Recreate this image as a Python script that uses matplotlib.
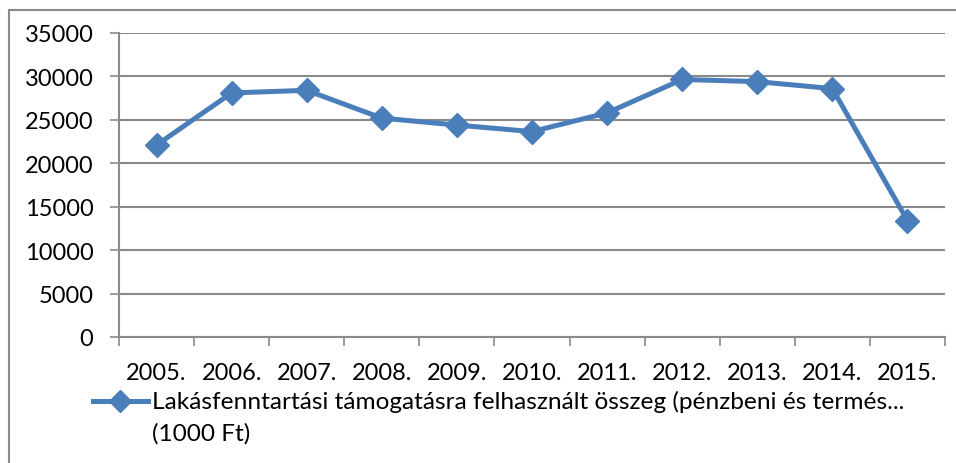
import matplotlib
matplotlib.use("Agg")
import matplotlib.pyplot as plt
from matplotlib.lines import Line2D
from matplotlib.patches import Rectangle

years = ["2005.", "2006.", "2007.", "2008.", "2009.", "2010.",
         "2011.", "2012.", "2013.", "2014.", "2015."]
values = [22100, 28100, 28400, 25200, 24400, 23650,
          25800, 29650, 29400, 28600, 13400]
series_label = ["Lakásfenntartási támogatásra felhasznált összeg (pénzbeni és termés...",
                "(1000 Ft)"]
y_ticks = [0, 5000, 10000, 15000, 20000, 25000, 30000, 35000]

BLUE = "#4A7EBB"
GRID = "#8A8A8A"
FS = 17

plt.rcParams['font.family'] = ['Lato', 'DejaVu Sans']

fig = plt.figure(figsize=(9.56, 4.64), dpi=100)
W, H = 956, 464

# outer chart frame (clipped on right and bottom like the source)
fig.patches.append(Rectangle((9 / W, -0.05), 1.2, 1 - 11 / H + 0.05,
                             transform=fig.transFigure, fill=False,
                             edgecolor="#8A8A8A", linewidth=1.5))

ax = fig.add_axes([119 / W, 1 - 338 / H, (945 - 119) / W, (338 - 34) / H])

x = list(range(len(years)))
ax.plot(x, values, color=BLUE, linewidth=3.6, marker="D", markersize=12,
        markerfacecolor=BLUE, markeredgecolor=BLUE, solid_joinstyle="round")

ax.set_xlim(-0.5, len(years) - 0.5)
ax.set_ylim(0, 35000)
ax.set_yticks(y_ticks)
ax.set_yticklabels([str(v) for v in y_ticks], fontsize=FS)
ax.set_xticks(x)
ax.set_xticklabels(years, fontsize=FS)
ax.set_xticks([i - 0.5 for i in range(len(years) + 1)], minor=True)

ax.tick_params(axis="x", which="major", length=0, pad=18)
ax.tick_params(axis="x", which="minor", length=6.5, width=1.2, color=GRID, direction="out")
ax.tick_params(axis="y", length=6.5, width=1.2, color=GRID, direction="out", pad=12)

ax.grid(axis="y", color=GRID, linewidth=1.5)
ax.set_axisbelow(True)
for side in ["top", "right"]:
    ax.spines[side].set_visible(False)
for side in ["left", "bottom"]:
    ax.spines[side].set_color(GRID)
    ax.spines[side].set_linewidth(1.5)

# legend drawn by hand so the handle sits on the first line
ly = 1 - 402 / H
fig.lines.append(Line2D([93 / W, 148 / W], [ly, ly], transform=fig.transFigure,
                        color=BLUE, linewidth=3.6))
fig.lines.append(Line2D([120.5 / W], [ly], transform=fig.transFigure,
                        color=BLUE, marker="D", markersize=11))
fig.text(152 / W, ly, series_label[0], fontsize=17.6, va="center", ha="left")
fig.text(152 / W, 1 - 434 / H, series_label[1], fontsize=17.6, va="center", ha="left")

fig.savefig("out.png", dpi=100)
